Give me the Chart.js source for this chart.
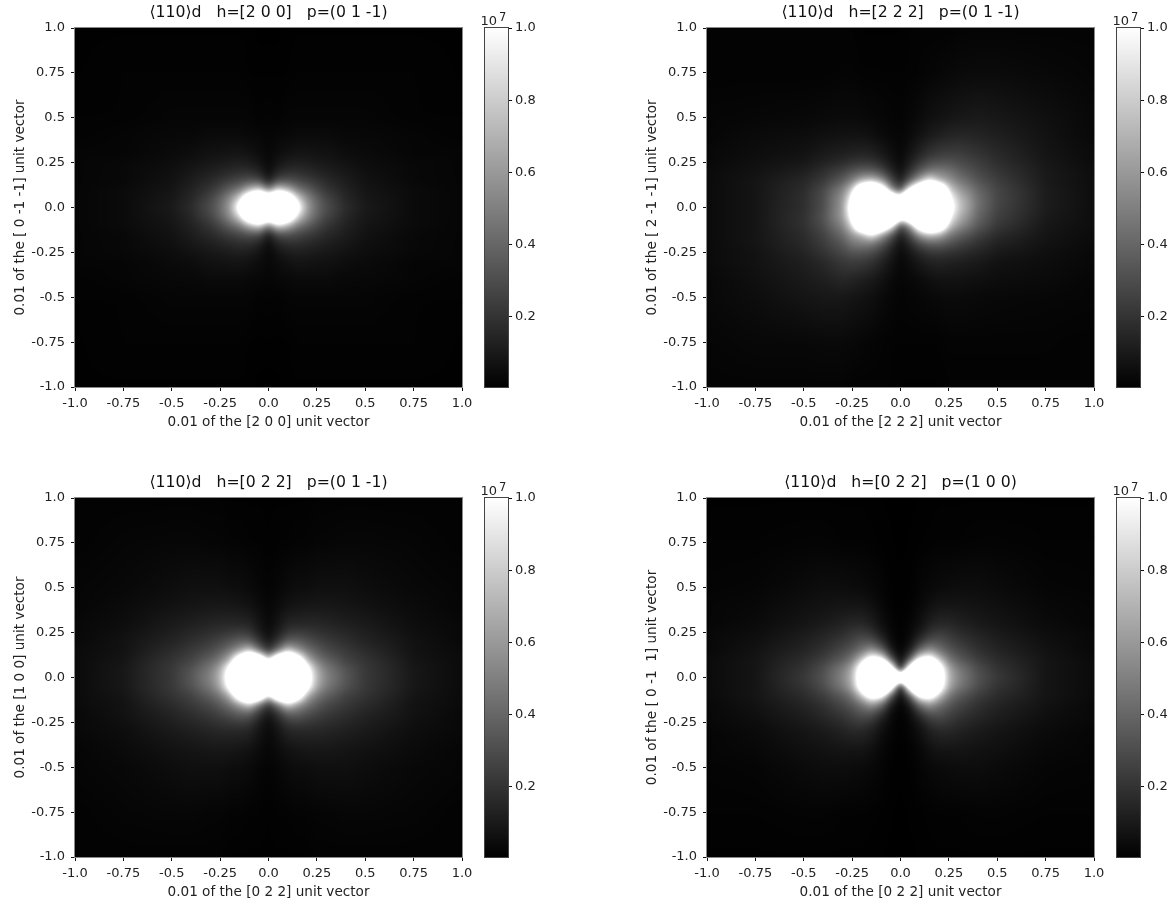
<!DOCTYPE html>
<html>
<head>
<meta charset="utf-8">
<title>110 d contrast maps</title>
<script src="https://cdn.jsdelivr.net/npm/chart.js@4"></script>
<style>
  html, body { margin: 0; padding: 0; background: #fff; }
  #page { position: relative; width: 1171px; height: 904px; overflow: hidden; }
  canvas { position: absolute; }
</style>
</head>
<body>
<div id="page"></div>
<script>
// grid nodes of the maps (axis units)
const X_NODES = [-1,-0.75,-0.5,-0.4,-0.3,-0.25,-0.2,-0.15,-0.1,-0.05,0,0.05,0.1,0.15,0.2,0.25,0.3,0.4,0.5,0.75,1];
const Y_NODES = [1,0.75,0.5,0.4,0.3,0.25,0.2,0.15,0.1,0.05,0,-0.05,-0.1,-0.15,-0.2,-0.25,-0.3,-0.4,-0.5,-0.75,-1];

// intensity, in % of 1e7 (above 100 is clipped to white)
const MAP_200 = [
  [.5,.5,.5,.5,.5,.5,.5,.5,.5,0,0,0,.5,.5,.5,.5,.5,.5,.5,.5,.5],
  [.5,1,1,1,1,1,1,1,.5,.5,.5,.5,.5,1,1,1,1,1,1,1,.5],
  [1,1,2,2,2,2,2,2,2,1,1.5,1,2,2,2,2,2,2,2,1,1],
  [1,2,3,3,4,4,4,4,3,3,2,3,3,4,4,4,4,3,3,2,1],
  [2,2,4,5,7,7,8,8,7,5,3,5,7,8,8,7,7,5,4,2,2],
  [2,3,5,7,9,10,11,12,11,8,3,8,11,12,11,10,9,7,5,3,2],
  [2,3,6,9,12,14,16,18,18,14,5,14,18,18,16,14,12,9,6,3,2],
  [2,3,7,11,16,20,24,28,32,30,12,30,32,28,24,20,16,11,7,3,2],
  [2,4,8,13,21,28,38,48,70,85,50,85,70,48,38,28,21,13,8,4,2],
  [2,4,9,15,27,38,55,85,150,200,150,200,150,85,55,38,27,15,9,4,2],
  [2,4,10,17,30,42,62,115,220,300,300,300,220,115,62,42,30,17,10,4,2],
  [2,4,9,15,27,38,55,85,150,200,150,200,150,85,55,38,27,15,9,4,2],
  [2,4,8,13,21,28,38,48,70,85,50,85,70,48,38,28,21,13,8,4,2],
  [2,3,7,11,16,20,24,28,32,30,12,30,32,28,24,20,16,11,7,3,2],
  [2,3,6,9,12,14,16,18,18,14,5,14,18,18,16,14,12,9,6,3,2],
  [2,3,5,7,9,10,11,12,11,8,3,8,11,12,11,10,9,7,5,3,2],
  [2,2,4,5,7,7,8,8,7,5,3,5,7,8,8,7,7,5,4,2,2],
  [1,2,3,3,4,4,4,4,3,3,2,3,3,4,4,4,4,3,3,2,1],
  [1,1,2,2,2,2,2,2,2,1,1.5,1,2,2,2,2,2,2,2,1,1],
  [.5,1,1,1,1,1,1,1,.5,.5,.5,.5,.5,1,1,1,1,1,1,1,.5],
  [.5,.5,.5,.5,.5,.5,.5,.5,.5,0,0,0,.5,.5,.5,.5,.5,.5,.5,.5,.5]
];
const MAP_222 = [
  [1,1,1,1,1,1,.5,.5,.5,.5,.5,1,1,1,1,1,1.5,1.5,1.5,1.5,1.5],
  [1,1,1,1,1.5,1.5,1,1,1,1,1,1,1.5,2,2.5,3,3.5,4,4,3,2],
  [2,2.5,3,3.5,4,4,3.5,3,2.5,2,1.5,2.5,4,6,7,8,9,10,9,6,3],
  [2,4,5,6,7,7,7,6,4,3,2,4,7,10,12,14,15,14,12,7,3],
  [3,5,7,10,12,13,14,13,10,6,3,8,14,20,23,24,24,20,16,8,4],
  [3,6,9,13,17,20,22,21,16,9,4,12,22,30,33,33,30,24,18,9,4],
  [4,7,12,18,26,33,38,38,30,16,6,20,36,48,50,46,38,28,21,10,5],
  [4,8,15,22,36,50,70,78,62,30,12,38,68,98,72,60,48,33,24,10,5],
  [4,8,17,28,50,80,160,190,140,60,30,105,170,220,180,85,62,40,27,11,5],
  [4,8,18,30,58,105,300,300,300,170,120,260,300,300,300,110,76,44,28,11,5],
  [4,8,18,30,60,125,300,300,300,300,300,300,300,300,300,125,80,44,27,11,5],
  [4,8,19,32,60,110,300,300,300,260,120,170,300,300,300,105,72,40,25,10,5],
  [4,8,19,30,52,85,180,220,170,105,30,60,140,190,160,80,58,35,22,9,5],
  [4,8,17,26,42,60,72,98,68,38,12,30,62,78,70,50,40,26,17,8,4],
  [4,8,16,23,34,46,50,48,36,20,6,16,30,38,38,33,27,19,13,7,4],
  [4,7,14,20,28,33,33,30,22,12,4,9,16,21,22,20,18,14,10,6,3],
  [4,7,12,16,22,24,23,20,14,8,3,6,10,13,14,13,12,10,7,5,3],
  [3,6,10,12,15,14,12,10,7,4,2,3,4,6,7,7,7,6,5,4,2],
  [3,5,8,9,9,8,7,6,4,2.5,1.5,2,2.5,3,3.5,4,4,3.5,3,2.5,2],
  [2,3,3,3.5,3.5,3,2.5,2,1.5,1,1,1,1,1,1,1.5,1.5,1.5,1.5,1.5,1],
  [1.5,1.5,1.5,1.5,1.5,1,1,1,1,1,.5,.5,.5,.5,.5,1,1,1,1,1,1]
];
const MAP_022 = [
  [1,1,1,1,1,1,.5,.5,.5,.5,.5,.5,.5,.5,.5,1,1,1,1,1,1],
  [1,2,2.5,2.5,2,2,1.5,1.5,1,1,.5,1,1,1.5,1.5,2,2,2.5,2.5,2,1],
  [2,3,5,6,6,6,5,5,4,2.5,1.5,2.5,4,5,5,6,6,6,5,3,2],
  [2,4,7,8,9,9,9,8,7,4.5,2.5,4.5,7,8,9,9,9,8,7,4,2],
  [3,5,10,12,14,15,15,15,14,8,3.5,8,14,15,15,15,14,12,10,5,3],
  [3,6,12,15,18,20,22,24,22,12,5,12,22,24,22,20,18,15,12,6,3],
  [3,7,14,18,23,27,32,38,38,22,9,22,38,38,32,27,23,18,14,7,3],
  [4,7,17,22,29,36,46,62,82,48,22,48,82,62,46,36,29,22,17,7,4],
  [4,8,20,26,38,48,70,135,200,160,80,160,200,135,70,48,38,26,20,8,4],
  [4,9,22,32,48,66,112,220,300,300,200,300,300,220,112,66,48,32,22,9,4],
  [4,9,22,34,52,72,125,300,300,300,300,300,300,300,125,72,52,34,22,9,4],
  [4,9,22,32,48,66,112,220,300,300,200,300,300,220,112,66,48,32,22,9,4],
  [4,8,20,26,38,48,70,135,200,160,80,160,200,135,70,48,38,26,20,8,4],
  [4,7,17,22,29,36,46,62,82,48,22,48,82,62,46,36,29,22,17,7,4],
  [3,7,14,18,23,27,32,38,38,22,9,22,38,38,32,27,23,18,14,7,3],
  [3,6,12,15,18,20,22,24,22,12,5,12,22,24,22,20,18,15,12,6,3],
  [3,5,10,12,14,15,15,15,14,8,3.5,8,14,15,15,15,14,12,10,5,3],
  [2,4,7,8,9,9,9,8,7,4.5,2.5,4.5,7,8,9,9,9,8,7,4,2],
  [2,3,5,6,6,6,5,5,4,2.5,1.5,2.5,4,5,5,6,6,6,5,3,2],
  [1,2,2.5,2.5,2,2,1.5,1.5,1,1,.5,1,1,1.5,1.5,2,2,2.5,2.5,2,1],
  [1,1,1,1,1,1,.5,.5,.5,.5,.5,.5,.5,.5,.5,1,1,1,1,1,1]
];
const MAP_022_P100 = [
  [.5,.5,.5,.5,.5,.5,.5,.3,.3,0,0,0,.3,.3,.5,.5,.5,.5,.5,.5,.5],
  [1,1,1.5,1.5,1,1,1,.8,.5,.3,0,.3,.5,.8,1,1,1,1.5,1.5,1,1],
  [1.5,2,4,5,5,4.5,4,3,2,.5,.3,.5,2,3,4,4.5,5,5,4,2,1.5],
  [2,3,6,7,8,8,8,6,3,1,.3,1,3,6,8,8,8,7,6,3,2],
  [2,4,8,10,13,15,15,12,6,2,.5,2,6,12,15,15,13,10,8,4,2],
  [3,5,10,13,17,21,23,19,10,3,.5,3,10,19,23,21,17,13,10,5,3],
  [3,6,12,16,22,27,33,33,20,5,.5,5,20,33,33,27,22,16,12,6,3],
  [3,7,14,19,28,35,46,60,44,12,1,12,44,60,46,35,28,19,14,7,3],
  [4,8,17,24,36,48,78,122,108,38,2,38,108,122,78,48,36,24,17,8,4],
  [4,8,20,30,48,66,125,270,260,125,8,125,260,270,125,66,48,30,20,8,4],
  [4,8,22,32,52,72,135,300,300,300,140,300,300,300,135,72,52,32,22,8,4],
  [4,8,20,30,48,66,125,270,260,125,8,125,260,270,125,66,48,30,20,8,4],
  [4,8,17,24,36,48,78,122,108,38,2,38,108,122,78,48,36,24,17,8,4],
  [3,7,14,19,28,35,46,60,44,12,1,12,44,60,46,35,28,19,14,7,3],
  [3,6,12,16,22,27,33,33,20,5,.5,5,20,33,33,27,22,16,12,6,3],
  [3,5,10,13,17,21,23,19,10,3,.5,3,10,19,23,21,17,13,10,5,3],
  [2,4,8,10,13,15,15,12,6,2,.5,2,6,12,15,15,13,10,8,4,2],
  [2,3,6,7,8,8,8,6,3,1,.3,1,3,6,8,8,8,7,6,3,2],
  [1.5,2,4,5,5,4.5,4,3,2,.5,.3,.5,2,3,4,4.5,5,5,4,2,1.5],
  [1,1,1.5,1.5,1,1,1,.8,.5,.3,0,.3,.5,.8,1,1,1,1.5,1.5,1,1],
  [.5,.5,.5,.5,.5,.5,.5,.3,.3,0,0,0,.3,.3,.5,.5,.5,.5,.5,.5,.5]
];

// colour bar: its range in units of 1e7 and the grey values at both ends (%)
const BAR_X = [0, 1];
const BAR_Y = [1, 0.005];
const BAR_ROWS = [[100, 100], [0.5, 0.5]];

// tick labels
const TICK_VALUES = [-1,-0.75,-0.5,-0.25,0,0.25,0.5,0.75,1];
const TICK_LABELS = ['-1.0','-0.75','-0.5','-0.25','0.0','0.25','0.5','0.75','1.0'];
const BAR_TICK_VALUES = [0.2,0.4,0.6,0.8,1];
const BAR_TICK_LABELS = ['0.2','0.4','0.6','0.8','1.0'];

const PANELS = [
  { left: 0,   top: 0,   rows: MAP_200,      title: '⟨110⟩d   h=[2 0 0]   p=(0 1 -1)', xTitle: '0.01 of the [2 0 0] unit vector', yTitle: '0.01 of the [ 0 -1 -1] unit vector' },
  { left: 632, top: 0,   rows: MAP_222,      title: '⟨110⟩d   h=[2 2 2]   p=(0 1 -1)', xTitle: '0.01 of the [2 2 2] unit vector', yTitle: '0.01 of the [ 2 -1 -1] unit vector' },
  { left: 0,   top: 470, rows: MAP_022,      title: '⟨110⟩d   h=[0 2 2]   p=(0 1 -1)', xTitle: '0.01 of the [0 2 2] unit vector', yTitle: '0.01 of the [1 0 0] unit vector' },
  { left: 632, top: 470, rows: MAP_022_P100, title: '⟨110⟩d   h=[0 2 2]   p=(1 0 0)',  xTitle: '0.01 of the [0 2 2] unit vector', yTitle: '0.01 of the [ 0 -1  1] unit vector' }
];

const FONT = 'DejaVu Sans';
const INK = '#222';
const SMOOTH_RADIUS = 3;

// bracket of v in a monotonic node list
function bracket(nodes, v) {
  const up = nodes[1] > nodes[0];
  let i = 0;
  while (i < nodes.length - 2 && (up ? v > nodes[i + 1] : v < nodes[i + 1])) i++;
  return [i, (v - nodes[i]) / (nodes[i + 1] - nodes[i])];
}

// box blur along one direction, edges clamped
function boxPass(src, w, h, r, horizontal) {
  const out = new Float32Array(src.length);
  for (let y = 0; y < h; y++) {
    for (let x = 0; x < w; x++) {
      let sum = 0;
      for (let d = -r; d <= r; d++) {
        const xx = horizontal ? Math.min(w - 1, Math.max(0, x + d)) : x;
        const yy = horizontal ? y : Math.min(h - 1, Math.max(0, y + d));
        sum += src[yy * w + xx];
      }
      out[y * w + x] = sum / (2 * r + 1);
    }
  }
  return out;
}

// paints the cells of dataset 0 through the chart's scales, linear grey map clipped at white
const heatPlugin = {
  id: 'heat',
  beforeDatasetsDraw(chart, args, opts) {
    const { ctx, chartArea: a, scales, data } = chart;
    const ds = data.datasets[0];
    const xs = ds.xNodes, ys = ds.yNodes, nx = xs.length;
    const w = Math.round(a.right - a.left), h = Math.round(a.bottom - a.top);
    let field = new Float32Array(w * h);
    for (let py = 0; py < h; py++) {
      const [j, fy] = bracket(ys, scales.y.getValueForPixel(a.top + py + 0.5));
      for (let px = 0; px < w; px++) {
        const [i, fx] = bracket(xs, scales.x.getValueForPixel(a.left + px + 0.5));
        const v00 = ds.data[j * nx + i].v, v10 = ds.data[j * nx + i + 1].v;
        const v01 = ds.data[(j + 1) * nx + i].v, v11 = ds.data[(j + 1) * nx + i + 1].v;
        field[py * w + px] = (v00 * (1 - fx) + v10 * fx) * (1 - fy) + (v01 * (1 - fx) + v11 * fx) * fy;
      }
    }
    if (opts.smooth) {
      for (let n = 0; n < 2; n++) {
        field = boxPass(field, w, h, opts.smooth, true);
        field = boxPass(field, w, h, opts.smooth, false);
      }
    }
    const img = ctx.createImageData(w, h);
    for (let k = 0; k < field.length; k++) {
      const g = Math.min(255, Math.max(0, field[k] * 2.55));
      img.data[k * 4] = img.data[k * 4 + 1] = img.data[k * 4 + 2] = g;
      img.data[k * 4 + 3] = 255;
    }
    ctx.putImageData(img, Math.round(a.left), Math.round(a.top));
  },
  afterDatasetsDraw(chart, args, opts) {
    const { ctx, chartArea: a } = chart;
    ctx.save();
    ctx.strokeStyle = opts.frame || '#333';
    ctx.lineWidth = 1;
    ctx.strokeRect(a.left - 0.5, a.top - 0.5, a.right - a.left + 1, a.bottom - a.top + 1);
    if (opts.exponent) {
      ctx.fillStyle = INK;
      ctx.textBaseline = 'alphabetic';
      ctx.font = '13px "' + FONT + '"';
      ctx.textAlign = 'right';
      ctx.fillText(opts.exponent[0], a.left + 12, a.top - 3);
      ctx.font = '11.5px "' + FONT + '"';
      ctx.textAlign = 'left';
      ctx.fillText(opts.exponent[1], a.left + 14, a.top - 7);
    }
    ctx.restore();
  }
};

function cellsOf(xNodes, yNodes, rows) {
  const pts = [];
  yNodes.forEach((y, j) => xNodes.forEach((x, i) => pts.push({ x, y, v: rows[j][i] })));
  return pts;
}

function fixedTicks(values, labels, pad) {
  return {
    afterBuildTicks: s => { s.ticks = values.map(value => ({ value })); },
    ticks: {
      autoSkip: false, maxRotation: 0, minRotation: 0, color: INK, padding: pad,
      font: { family: FONT, size: 13 },
      callback: v => labels[values.indexOf(v)]
    },
    grid: { drawOnChartArea: false, drawTicks: true, tickLength: 4, tickColor: '#111', tickWidth: 1 },
    border: { display: false }
  };
}

function addCanvas(left, top, width, height) {
  const c = document.createElement('canvas');
  c.width = width; c.height = height;
  c.style.left = left + 'px'; c.style.top = top + 'px';
  document.getElementById('page').appendChild(c);
  return c;
}

function drawPanel(p) {
  new Chart(addCanvas(p.left, p.top, 480, 432), {
    type: 'scatter',
    data: { datasets: [{ data: cellsOf(X_NODES, Y_NODES, p.rows), xNodes: X_NODES, yNodes: Y_NODES, pointRadius: 0 }] },
    plugins: [heatPlugin],
    options: {
      responsive: false, animation: false, events: [],
      layout: { padding: { left: 0, right: 18, top: 0, bottom: 0 } },
      scales: {
        x: {
          type: 'linear', min: -1, max: 1, ...fixedTicks(TICK_VALUES, TICK_LABELS, 5),
          afterFit: s => { s.height = 45; },
          title: { display: true, text: p.xTitle, color: INK, font: { family: FONT, size: 13.6 }, padding: { top: 0, bottom: 1 } }
        },
        y: {
          type: 'linear', min: -1, max: 1, ...fixedTicks(TICK_VALUES, TICK_LABELS, 6),
          afterFit: s => { s.width = 75; },
          title: { display: true, text: p.yTitle, color: INK, font: { family: FONT, size: 13.6 }, padding: { top: 12, bottom: 0 } }
        }
      },
      plugins: {
        legend: { display: false }, tooltip: { enabled: false },
        heat: { frame: '#888', smooth: SMOOTH_RADIUS },
        title: {
          display: true, text: p.title, color: '#111', fullSize: false,
          font: { family: FONT, size: 15.7, weight: 'normal', lineHeight: '20px' },
          padding: { top: 3, bottom: 5 }
        }
      }
    }
  });

  // colour bar next to the map
  new Chart(addCanvas(p.left + 475, p.top, 70, 430), {
    type: 'scatter',
    data: { datasets: [{ data: cellsOf(BAR_X, BAR_Y, BAR_ROWS), xNodes: BAR_X, yNodes: BAR_Y, pointRadius: 0 }] },
    plugins: [heatPlugin],
    options: {
      responsive: false, animation: false, events: [],
      layout: { padding: { left: 10, right: 0, top: 28, bottom: 43 } },
      scales: {
        x: { type: 'linear', min: 0, max: 1, display: false },
        y: {
          type: 'linear', position: 'right', min: 0.005, max: 1,
          ...fixedTicks(BAR_TICK_VALUES, BAR_TICK_LABELS, 3),
          afterFit: s => { s.width = 37; }
        }
      },
      plugins: {
        legend: { display: false }, tooltip: { enabled: false },
        heat: { frame: '#444', exponent: ['10', '7'] }
      }
    }
  });
}

PANELS.forEach(drawPanel);
</script>
</body>
</html>
